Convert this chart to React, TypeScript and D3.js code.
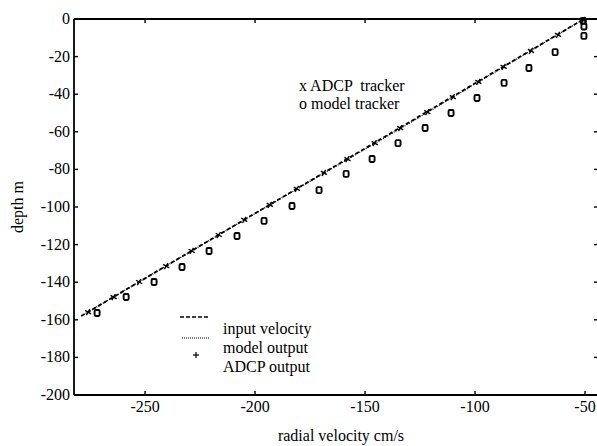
import React from "react";
import * as d3 from "d3";

const inputVelocity = [-279, -50.5];
const inputDepth = [-158, 0];
const modelLineVelocity = [-279, -200, -130, -50.5];
const modelLineDepth = [-158, -103.5, -55.5, 0];

const adcpVelocity = [-275.9, -264.3, -252.7, -240.4, -228.8, -216.5, -204.9, -193.3, -181.0, -168.7, -158.0, -145.6, -134.0, -121.7, -110.1, -98.5, -87.0, -74.6, -62.3, -50.7];
const adcpDepth = [-155.9, -147.9, -139.9, -131.4, -123.4, -114.9, -106.9, -98.9, -90.4, -81.9, -74.5, -66.0, -58.0, -49.5, -41.5, -33.5, -25.5, -17.0, -8.5, -0.5];

const modelVelocity = [-271.8, -258.6, -245.9, -233.2, -220.9, -208.2, -195.9, -183.2, -170.9, -158.6, -146.8, -135.0, -122.7, -110.9, -99.1, -86.8, -75.5, -63.6, -50.8, -50.5, -50.5];
const modelDepth = [-156.4, -147.9, -139.9, -131.9, -123.4, -115.4, -107.4, -99.5, -91.0, -82.4, -74.5, -66.0, -58.0, -50.0, -42.0, -34.0, -26.1, -17.6, -1.0, -4.0, -9.0];

const xTicks = [-250, -200, -150, -100, -50];
const yTicks = [0, -20, -40, -60, -80, -100, -120, -140, -160, -180, -200];

const annotation = ["x ADCP  tracker", "o model tracker"];
const legendLabels = ["input velocity", "model output", "ADCP output"];

const W = 597, H = 446;
const L = 74, R = 598, T = 19, B = 395;
const font = "'Liberation Serif', 'DejaVu Serif', serif";

export default function App() {
  const x = d3.scaleLinear().domain([-282.3, -44.1]).range([L, R]);
  const y = d3.scaleLinear().domain([-200, 0]).range([B, T]);
  const line = d3.line<[number, number]>().x((d) => x(d[0])).y((d) => y(d[1]));
  const inputPts = inputVelocity.map((v, i) => [v, inputDepth[i]] as [number, number]);
  const modelPts = modelLineVelocity.map((v, i) => [v, modelLineDepth[i]] as [number, number]);
  const tk = 4;
  return (
    <svg width={W} height={H} style={{ position: "absolute", left: 0, top: 0, background: "#fff" }} fontFamily={font}>
      <rect x={0} y={0} width={W} height={H} fill="#fff" />
      <g stroke="#000" strokeWidth={1.8} fill="none">
        <line x1={L} y1={T} x2={R} y2={T} />
        <line x1={L} y1={B} x2={R} y2={B} />
        <line x1={L} y1={T} x2={L} y2={B} />
        <line x1={R} y1={T} x2={R} y2={B} />
      </g>
      <g stroke="#000" strokeWidth={1.4}>
        {xTicks.map((t) => (
          <g key={"xt" + t}>
            <line x1={x(t)} x2={x(t)} y1={B} y2={B - tk} />
            <line x1={x(t)} x2={x(t)} y1={T} y2={T + tk} />
          </g>
        ))}
        {yTicks.map((t) => (
          <g key={"yt" + t}>
            <line x1={L} x2={L + tk} y1={y(t)} y2={y(t)} />
            <line x1={R} x2={R - tk} y1={y(t)} y2={y(t)} />
          </g>
        ))}
      </g>
      <g fontSize={16} fill="#000">
        {xTicks.map((t) => (
          <text key={"xl" + t} x={x(t)} y={B + 17} textAnchor="middle">{t}</text>
        ))}
        {yTicks.map((t) => (
          <text key={"yl" + t} x={L - 4} y={y(t) + 5} textAnchor="end">{t}</text>
        ))}
        <text x={341} y={441} textAnchor="middle">radial velocity cm/s</text>
        <text transform={`translate(23,${(T + B) / 2}) rotate(-90)`} textAnchor="middle">depth m</text>
        <text x={299} y={91} style={{ whiteSpace: "pre" }}>{annotation[0]}</text>
        <text x={299} y={109}>{annotation[1]}</text>
      </g>
      <path d={line(modelPts) || ""} fill="none" stroke="#000" strokeWidth={1.3} strokeDasharray="1,1.5" />
      <path d={line(inputPts) || ""} fill="none" stroke="#000" strokeWidth={1.8} strokeDasharray="4,2.5" />
      <g stroke="#000" strokeWidth={1.4}>
        {adcpVelocity.map((v, i) => (
          <g key={"a" + i} transform={`translate(${x(v)},${y(adcpDepth[i])}) rotate(30)`}>
            <line x1={-3.5} x2={3.5} y1={0} y2={0} />
            <line x1={0} x2={0} y1={-3.5} y2={3.5} />
          </g>
        ))}
      </g>
      <g stroke="#000" strokeWidth={1.9} fill="none">
        {modelVelocity.map((v, i) => (
          <rect key={"m" + i} x={x(v) - 2.5} y={y(modelDepth[i]) - 3} width={5} height={6} rx={1.2} />
        ))}
      </g>
      <g>
        <line x1={180} x2={210} y1={317} y2={317} stroke="#000" strokeWidth={1.6} strokeDasharray="4,2" />
        <line x1={182} x2={210} y1={338} y2={338} stroke="#000" strokeWidth={1} strokeDasharray="1,1" />
        <g stroke="#000" strokeWidth={1.2}>
          <line x1={193} x2={199} y1={355} y2={355} />
          <line x1={196} x2={196} y1={352} y2={358} />
        </g>
        <g fontSize={16} fill="#000">
          <text x={223} y={334}>{legendLabels[0]}</text>
          <text x={223} y={353}>{legendLabels[1]}</text>
          <text x={223} y={372}>{legendLabels[2]}</text>
        </g>
      </g>
    </svg>
  );
}
